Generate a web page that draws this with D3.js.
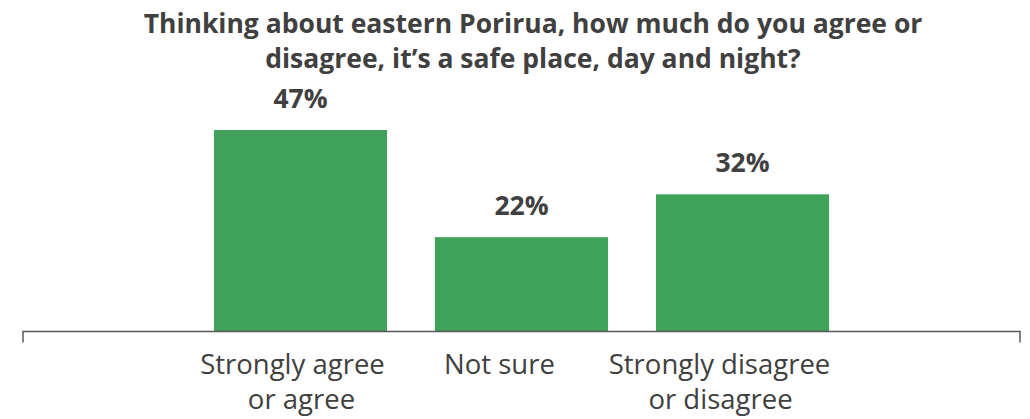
<!DOCTYPE html>
<html><head><meta charset="utf-8">
<script src="https://cdn.jsdelivr.net/npm/d3@7"></script>
<style>body{margin:0;background:#fff;} svg{display:block;}</style>
</head><body>
<svg id="c" width="1030" height="419"></svg>
<script>
const categories = ["Strongly agree|or agree", "Not sure", "Strongly disagree|or disagree"];
const values = [47, 22, 32];
const valueLabels = ["47%", "22%", "32%"];
const titleLines = ["Thinking about eastern Porirua, how much do you agree or", "disagree, it\u2019s a safe place, day and night?"];

const svg = d3.select("#c");
const font = "'Open Sans', 'Noto Sans', sans-serif";
const textCol = "#404040";
const x0 = 23, x1 = 1020, baseY = 331.5;
// layout nudges for the wrapped category label lines (px)
const labelNudge = [[-8, 1], [-22], [-23, -22]];

const x = d3.scaleBand().domain(categories).range([x0, x1]).paddingInner(0.217).paddingOuter(0.864);
const y = d3.scaleLinear().domain([0, 47]).range([baseY, 130]);

svg.append("g").selectAll("text").data(titleLines).join("text")
  .attr("x", 533).attr("y", (d, i) => 33 + i * 35)
  .attr("text-anchor", "middle").attr("font-family", font).attr("font-weight", "bold")
  .attr("font-size", 26.5).attr("fill", textCol).text(d => d);

svg.append("g").selectAll("rect").data(values).join("rect")
  .attr("x", (d, i) => x(categories[i])).attr("width", x.bandwidth())
  .attr("y", d => y(d)).attr("height", d => baseY - y(d)).attr("fill", "#3fa15a");

svg.append("g").selectAll("text").data(values).join("text")
  .attr("x", (d, i) => x(categories[i]) + x.bandwidth() / 2).attr("y", d => y(d) - 22)
  .attr("text-anchor", "middle").attr("font-family", font).attr("font-weight", "bold")
  .attr("font-size", 26.5).attr("fill", textCol).text((d, i) => valueLabels[i]);

// axis
const axis = d3.axisBottom(x).tickSize(0).tickFormat("");
const ag = svg.append("g").attr("transform", `translate(0,${baseY})`).call(axis);
ag.select(".domain").remove();
ag.append("path").attr("d", `M${x0},${11}V0H${x1}V${11}`).attr("fill", "none").attr("stroke", "#595959").attr("stroke-width", 1.5);

const lab = svg.append("g");
categories.forEach((c, i) => {
  const lines = c.split("|");
  lines.forEach((l, j) => {
    lab.append("text").attr("x", x(c) + x.bandwidth() / 2 + labelNudge[i][j]).attr("y", 374 + j * 35)
      .attr("text-anchor", "middle").attr("font-family", font).attr("font-size", 27.5)
      .attr("fill", textCol).text(l);
  });
});
</script>
</body></html>
